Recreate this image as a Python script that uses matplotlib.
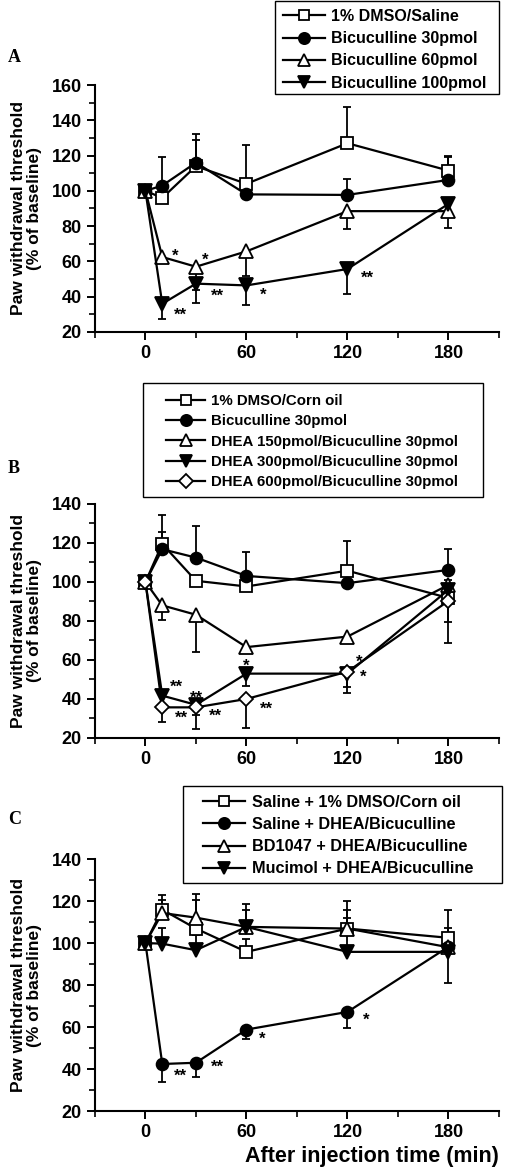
import numpy as np
import matplotlib
matplotlib.use('Agg')
import matplotlib.pyplot as plt
from matplotlib.ticker import MultipleLocator, FixedLocator
from matplotlib.patches import Rectangle

plt.rcParams['font.family'] = ['Liberation Sans', 'DejaVu Sans']
plt.rcParams['font.weight'] = 'bold'

W, H = 505, 1171

times = [0, 10, 30, 60, 120, 180]

# ---- panel A ----
a_labels = ['1% DMSO/Saline', 'Bicuculline 30pmol', 'Bicuculline 60pmol', 'Bicuculline 100pmol']
a_vals = [
    [100, 96, 114, 104, 127, 111.5],
    [100, 103, 116, 98, 97.7, 106.2],
    [100, 62.5, 57, 65.7, 88.5, 88.5],
    [100, 36, 47.4, 46.4, 55.7, 92.6],
]
a_err_up = [
    [0, 0, 18, 22, 20.4, 8.5],
    [0, 16, 13, 0, 9, 13],
    [0, 0, 0, 0, 0, 0],
    [0, 0, 0, 0, 0, 0],
]
a_err_down = [
    [0, 0, 0, 0, 0, 0],
    [0, 0, 0, 0, 0, 0],
    [0, 2.5, 13.4, 13.8, 9.9, 9.7],
    [0, 8.6, 11, 11, 14, 0],
]
# (series, time index, text, dx px, dy px)
a_stars = [(2, 1, '*', 10, 5), (2, 2, '*', 6, 10), (3, 1, '**', 12, -8),
           (3, 2, '**', 15, -9), (3, 3, '*', 13, -6), (3, 4, '**', 13, -5)]

# ---- panel B ----
b_labels = ['1% DMSO/Corn oil', 'Bicuculline 30pmol', 'DHEA 150pmol/Bicuculline 30pmol',
            'DHEA 300pmol/Bicuculline 30pmol', 'DHEA 600pmol/Bicuculline 30pmol']
b_vals = [
    [100, 119.5, 100.6, 97.7, 105.8, 91.8],
    [100, 116.8, 112.5, 103.1, 99.4, 106.2],
    [100, 88, 83.2, 66.6, 72, 98.5],
    [100, 41.7, 37, 53, 53, 96],
    [100, 35.7, 35.7, 40, 54, 90.3],
]
b_err_up = [
    [0, 15, 0, 0, 15, 9],
    [0, 9, 16, 12.5, 0, 10.5],
    [0, 0, 0, 0, 0, 0],
    [0, 0, 0, 0, 0, 0],
    [0, 0, 0, 0, 0, 0],
]
b_err_down = [
    [0, 0, 0, 0, 0, 0],
    [0, 0, 0, 0, 0, 0],
    [0, 7.7, 19.2, 0, 0, 19],
    [0, 0, 5, 6.5, 10, 0],
    [0, 7.7, 11, 15, 7.7, 21.4],
]
b_stars = [(3, 1, '**', 8, 12), (4, 1, '**', 13, -7), (3, 2, '**', 0, 11),
           (4, 2, '**', 13, -5), (3, 3, '*', 0, 11), (4, 3, '**', 13, -6),
           (3, 4, '*', 8, 15), (4, 4, '*', 12, -2)]

# ---- panel C ----
c_labels = ['Saline + 1% DMSO/Corn oil', 'Saline + DHEA/Bicuculline',
            'BD1047 + DHEA/Bicuculline', 'Mucimol + DHEA/Bicuculline']
c_vals = [
    [100, 115.9, 106.9, 95.8, 106.9, 102.5],
    [100, 42.4, 43, 58.8, 67.2, 98.2],
    [100, 114.3, 112.1, 107.7, 106.9, 98],
    [100, 99.7, 96.6, 107.7, 95.8, 95.8],
]
c_err_up = [
    [0, 7, 13.4, 6, 13, 13],
    [0, 0, 0, 0, 0, 0],
    [0, 6, 11.3, 8, 9, 9],
    [0, 7.5, 7, 11, 16, 0],
]
c_err_down = [
    [0, 0, 0, 0, 0, 0],
    [0, 8.4, 6.7, 4.6, 7.6, 0],
    [0, 0, 0, 0, 0, 0],
    [0, 0, 0, 0, 0, 15],
]
c_stars = [(1, 1, '**', 12, -8), (1, 2, '**', 15, -1), (1, 3, '*', 12, -6), (1, 4, '*', 15, -4)]

markers = [('s', 'white'), ('o', 'black'), ('^', 'white'), ('v', 'black'), ('D', 'white')]
msizes = [8, 8.5, 9.5, 9.5, 7.5]


def draw_panel(ax, labels, vals, err_up, err_down, stars, ylim, leg_xy, lspace, lsize, box):
    for i in range(len(vals)):
        ax.errorbar(times, vals[i], yerr=[err_down[i], err_up[i]], fmt='none',
                    ecolor='black', elinewidth=1.3, capsize=3, capthick=1.3, zorder=1)
    for i in range(len(vals)):
        m, fc = markers[i]
        ax.plot(times, vals[i], '-', color='black', lw=1.6, marker=m, ms=msizes[i],
                mfc=fc, mec='black', mew=1.3, label=labels[i], zorder=3 + i)
    for s, t, txt, dx, dy in stars:
        ax.annotate(txt, (times[t], vals[s][t]), xytext=(dx, dy - 4),
                    textcoords='offset pixels', ha='left' if dx else 'center',
                    va='center', fontsize=12, fontweight='bold')

    ax.set_xlim(-30, 210)
    ax.set_ylim(*ylim)
    ax.xaxis.set_major_locator(FixedLocator([0, 60, 120, 180]))
    ax.xaxis.set_minor_locator(FixedLocator([-30, 30, 90, 150, 210]))
    ax.yaxis.set_major_locator(MultipleLocator(20))
    ax.yaxis.set_minor_locator(MultipleLocator(10))
    ax.tick_params(which='major', direction='out', length=6, width=1.4, labelsize=13)
    ax.tick_params(which='minor', direction='out', length=4, width=1.2)
    for lab in ax.get_xticklabels() + ax.get_yticklabels():
        lab.set_fontweight('bold')
    for sp in ['top', 'right']:
        ax.spines[sp].set_visible(False)
    for sp in ['left', 'bottom']:
        ax.spines[sp].set_linewidth(1.5)
    ax.set_ylabel('Paw withdrawal threshold\n(% of baseline)', fontsize=12.5,
                  fontweight='bold', linespacing=1.1)
    ax.yaxis.set_label_coords(-0.13, 0.5)

    fig = ax.figure
    ax.legend(loc='upper left', bbox_to_anchor=(leg_xy[0] / W, 1 - leg_xy[1] / H),
              bbox_transform=fig.transFigure, borderaxespad=0, borderpad=0,
              frameon=False, prop={'size': lsize, 'weight': 'bold'}, numpoints=1,
              handlelength=2.6, handletextpad=0.4, labelspacing=lspace,
              markerscale=0.95)
    x0, y0, x1, y1 = box
    fig.patches.append(Rectangle((x0 / W, 1 - y1 / H), (x1 - x0) / W, (y1 - y0) / H,
                                 transform=fig.transFigure, fill=False,
                                 edgecolor='black', linewidth=1.0))


fig = plt.figure(figsize=(W / 100, H / 100), dpi=100)

ax_a = fig.add_axes([0.188, 0.7165, 0.80, 0.2109])
draw_panel(ax_a, a_labels, a_vals, a_err_up, a_err_down, a_stars, (20, 160),
           (283, 9), 0.45, 11.5, (275, 1, 499, 94))

ax_b = fig.add_axes([0.188, 0.3698, 0.80, 0.1998])
draw_panel(ax_b, b_labels, b_vals, b_err_up, b_err_down, b_stars, (20, 140),
           (166, 394), 0.42, 10.8, (143, 383, 483, 497))

ax_c = fig.add_axes([0.188, 0.0512, 0.80, 0.2152])
draw_panel(ax_c, c_labels, c_vals, c_err_up, c_err_down, c_stars, (20, 140),
           (203, 795), 0.44, 11.7, (183, 786, 502, 883))
ax_c.set_xlabel('After injection time (min)', fontsize=15.5, fontweight='bold')
ax_c.xaxis.set_label_coords(1.0, -0.14)
ax_c.xaxis.label.set_ha('right')

for letter, ypix in [('A', 57), ('B', 469), ('C', 820)]:
    fig.text(8 / W, 1 - ypix / H, letter, family='Liberation Serif',
             fontweight='bold', fontsize=13, va='center', ha='left')

fig.savefig('out.png', dpi=100)
